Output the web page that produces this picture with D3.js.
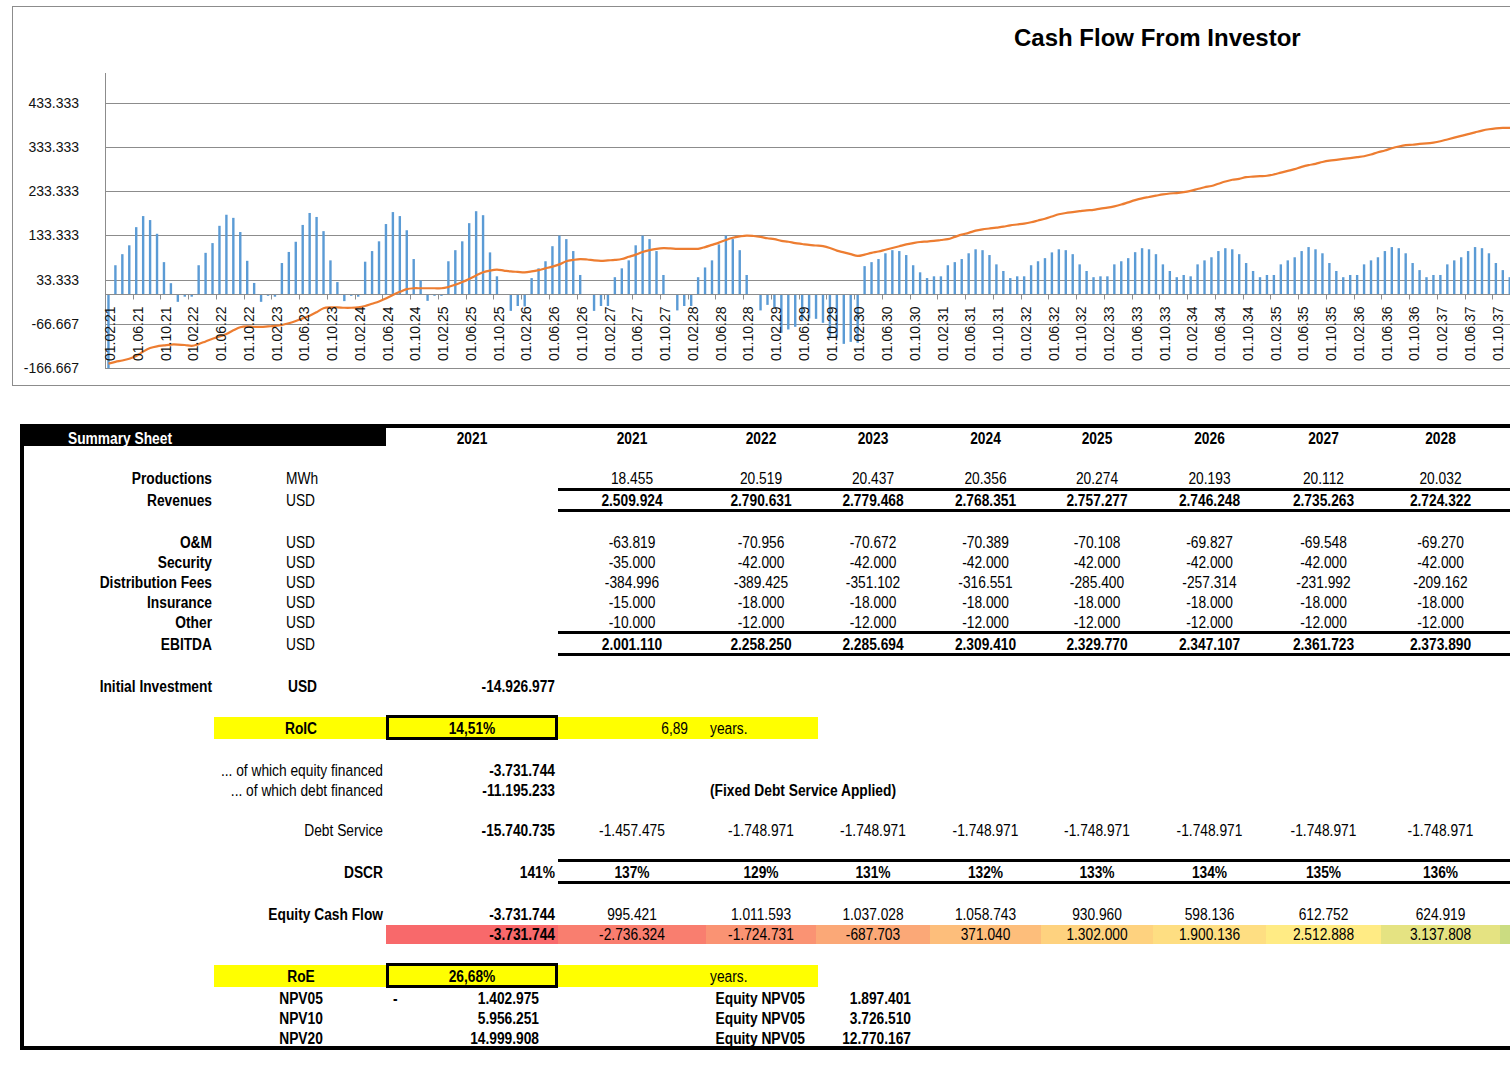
<!DOCTYPE html>
<html><head><meta charset="utf-8">
<script src="https://cdn.jsdelivr.net/npm/d3@7"></script>
<style>
html,body{margin:0;padding:0;background:#fff;}
svg{display:block;}
</style></head>
<body>
<svg id="chart" width="1510" height="1074"></svg>
<script>
// ---------------- DATA ----------------
const chartTitle = "Cash Flow From Investor";
const startMonth = new Date(2021, 1, 1); // 01.02.21
// monthly equity cash flow (thousand USD), Feb 2021 onward
const monthlyCashFlow = [
  -3731.744,
  66, 91, 111, 152, 177, 168, 137, 73, 25.5, -16.6, -5, -5,
  66, 94, 116, 155, 180, 173, 141, 76, 26, -16.6, -3, -5,
  71, 96, 119, 157, 184, 175, 143, 77, 28, -15, -3, -5,
  74, 98, 120, 159, 186, 177, 145, 80, 31.5, -14.4, -3, -3,
  75, 100, 120, 161, 188, 179, 95, 41, 0, -37, -26, -27,
  37, 59, 75, 109, 133, 125, 98, 44, 0, -37, -26, -26,
  39, 59, 77, 111, 133, 125, 98, 44, 0, -36, -26, -26,
  39, 61, 77, 113, 133, 125, 100, 44, 0, -36, -23.5, -30,
  -86.6, -79, -73, -60, -54, -55, -64, -95.6, -97, -111.5, -107, -109,
  64, 73, 80, 93, 100, 98, 89, 66, 50, 37, 41, 41,
  66, 73, 80, 93, 102, 100, 89, 68, 53, 37, 41, 41,
  66, 75, 82, 95, 102, 100, 91, 68, 53, 39, 41, 41,
  68, 75, 82, 95.5, 104.5, 102, 91, 68, 53, 39, 44, 41,
  68, 77, 84, 98, 104.5, 102, 91, 71, 53, 39, 44, 44,
  68, 77, 84, 98, 107, 102, 93, 71, 53, 39, 44, 44,
  68, 77, 84, 98, 107, 104.5, 93, 71, 55, 39, 44, 44,
  68, 77, 84, 98, 107, 104.5, 93, 71, 55, 39, 44
];
// smoothed line series (thousand USD)
const lineSeries = [
  -156, -152, -149, -145, -139, -129, -121, -117, -115, -113, -113, -114, -116,
  -112, -106, -100, -95, -89, -81, -74, -72, -73, -73, -72, -71,
  -69, -65, -60, -54, -48, -40, -31, -29, -29, -30, -30, -29,
  -26, -21, -16, -9, -1, 6, 12, 14, 14, 14, 14, 14,
  17, 22, 28, 35, 43, 50, 54, 56, 54, 52, 51, 50,
  52, 55, 59, 63, 68, 75, 78, 80, 79, 77, 76, 77,
  78, 80, 85, 90, 96, 100, 103, 104.5, 104, 103, 103, 103,
  103, 107, 112, 117, 123, 128, 131, 133, 132, 130, 127, 125,
  121, 119, 116, 114, 112, 110.5, 109, 105, 99, 95, 91, 87,
  90, 94, 97, 101, 105, 109, 113, 116, 118.5, 119.5, 121, 123,
  125, 130, 135, 139, 144, 147, 149, 151, 153, 156, 158, 160,
  163, 167, 171, 176, 181, 184, 186, 188, 190, 191, 194, 196,
  199, 203, 208, 213, 217, 220, 223, 226, 228, 229, 231, 234,
  238, 242, 245, 250, 255, 259, 261, 265, 266, 267, 268, 271,
  275, 279, 283, 288, 292, 295, 299, 302, 304, 306, 308, 310,
  312, 316, 321, 325, 330, 334, 337, 338, 340, 341, 343, 346,
  350, 354, 358, 362, 366, 370, 373, 375, 376, 376, 377
];
const yTickValues = [-166.667, -66.667, 33.333, 133.333, 233.333, 333.333, 433.333];
const yMax = 500;
const labelEvery = 4;

// table data
const years = ["2021", "2022", "2023", "2024", "2025", "2026", "2027", "2028"];
const productions = [18455, 20519, 20437, 20356, 20274, 20193, 20112, 20032];
const revenues = [2509924, 2790631, 2779468, 2768351, 2757277, 2746248, 2735263, 2724322];
const om = [-63819, -70956, -70672, -70389, -70108, -69827, -69548, -69270];
const security = [-35000, -42000, -42000, -42000, -42000, -42000, -42000, -42000];
const distributionFees = [-384996, -389425, -351102, -316551, -285400, -257314, -231992, -209162];
const insurance = [-15000, -18000, -18000, -18000, -18000, -18000, -18000, -18000];
const other = [-10000, -12000, -12000, -12000, -12000, -12000, -12000, -12000];
const ebitda = [2001110, 2258250, 2285694, 2309410, 2329770, 2347107, 2361723, 2373890];
const debtService = [-1457475, -1748971, -1748971, -1748971, -1748971, -1748971, -1748971, -1748971];
const dscr = [137, 129, 131, 132, 133, 134, 135, 136];
const equityCashFlow = [995421, 1011593, 1037028, 1058743, 930960, 598136, 612752, 624919];
const equityCumulative = [-2736324, -1724731, -687703, 371040, 1302000, 1900136, 2512888, 3137808];
const nextYearCumulative = 3760000; // column beyond the visible edge (only its colour shows)
const initialInvestment = -14926977;
const equityFinanced = -3731744;
const debtFinanced = -11195233;
const debtServiceTotal = -15740735;
const dscrTotal = 141;
const equityInitial = -3731744;
const roic = "14,51%", roicYears = "6,89";
const roe = "26,68%";
const npvLabels = ["NPV05", "NPV10", "NPV20"];
const npvValues = [1402975, 5956251, 14999908];
const equityNpvLabels = ["Equity NPV05", "Equity NPV05", "Equity NPV05"];
const equityNpvValues = [1897401, 3726510, 12770167];

// ---------------- RENDER ----------------
const loc = d3.formatLocale({decimal: ",", thousands: ".", grouping: [3], currency: ["", ""], minus: "-"});
const fmt = loc.format(",.0f");
const svg = d3.select("#chart");
const FONT = "'Liberation Sans', Arial, sans-serif";

// chart frame
svg.append("rect").attr("x", 12.5).attr("y", 6.5).attr("width", 2300).attr("height", 379)
  .attr("fill", "#fff").attr("stroke", "#8c8c8c").attr("stroke-width", 1);

const plotLeft = 105, plotTop = 73, plotBottom = 368.3, step = 6.937;
const N = monthlyCashFlow.length;
const idx = d3.range(N);
const months = idx.map(i => d3.timeMonth.offset(startMonth, i));
const fmtDate = d3.timeFormat("%d.%m.%y");

const x = d3.scaleBand().domain(idx).range([plotLeft, plotLeft + N * step]).padding(0);
const y = d3.scaleLinear().domain([yTickValues[0], yMax]).range([plotBottom, plotTop]);

svg.append("defs").append("clipPath").attr("id", "plotclip")
  .append("rect").attr("x", plotLeft).attr("y", plotTop).attr("width", 3000).attr("height", plotBottom - plotTop);

// gridlines
svg.append("g").selectAll("line").data(yTickValues).join("line")
  .attr("x1", plotLeft).attr("x2", 1510)
  .attr("y1", d => Math.round(y(d)) + 0.5).attr("y2", d => Math.round(y(d)) + 0.5)
  .attr("stroke", "#8c8c8c").attr("stroke-width", 1);

// y axis line
svg.append("line").attr("x1", plotLeft + 0.5).attr("x2", plotLeft + 0.5)
  .attr("y1", plotTop).attr("y2", plotBottom).attr("stroke", "#8c8c8c");

// y labels
svg.append("g").selectAll("text").data(yTickValues).join("text")
  .attr("x", 79).attr("y", d => y(d) + 5)
  .attr("text-anchor", "end").attr("font-family", FONT).attr("font-size", "14px").attr("fill", "#111")
  .text(d => fmt(d * 1000));

// bars
const barW = 2.4;
svg.append("g").attr("clip-path", "url(#plotclip)").selectAll("rect").data(monthlyCashFlow).join("rect")
  .attr("x", (d, i) => x(i) + (step - barW) / 2)
  .attr("width", barW)
  .attr("y", d => y(Math.max(0, d)))
  .attr("height", d => Math.abs(y(d) - y(0)))
  .attr("fill", "#5b9bd5");

// category axis at zero
const y0 = Math.round(y(0)) + 0.5;
svg.append("line").attr("x1", plotLeft).attr("x2", 1510).attr("y1", y0).attr("y2", y0).attr("stroke", "#8c8c8c");
const tickIdx = idx.filter(i => i % labelEvery === 0);
svg.append("g").selectAll("line").data(tickIdx).join("line")
  .attr("x1", i => Math.round(x(i)) + 0.5).attr("x2", i => Math.round(x(i)) + 0.5)
  .attr("y1", y0).attr("y2", y0 + 5).attr("stroke", "#8c8c8c");

// line
const line = d3.line().x((d, i) => x(i) + step / 2).y(d => y(d)).curve(d3.curveCatmullRom.alpha(0.5));
svg.append("path").datum(lineSeries).attr("d", line)
  .attr("fill", "none").attr("stroke", "#ed7d31").attr("stroke-width", 2.2).attr("clip-path", "url(#plotclip)");

// x labels
svg.append("g").selectAll("text").data(tickIdx).join("text")
  .attr("transform", i => `translate(${x(i) + step / 2},306.5) rotate(-90)`)
  .attr("dy", "6.7px").attr("text-anchor", "end")
  .attr("font-family", FONT).attr("font-size", "14px").attr("fill", "#111")
  .text(i => fmtDate(months[i]));

// title
svg.append("text").attr("x", 1014).attr("y", 46).attr("font-family", FONT)
  .attr("font-weight", "bold").attr("font-size", "24px").attr("fill", "#000").text(chartTitle);

// ---------------- TABLE ----------------
const T = svg.append("g").attr("font-family", FONT).attr("font-size", "17px");
const colB = [386, 558, 706, 816, 930, 1041, 1153, 1266, 1381, 1500, 1620];
const colMid = i => (colB[i + 1] + colB[i + 2]) / 2; // year column i
function tx(xp, yp, s, o = {}) {
  T.append("text").attr("transform", `translate(${xp},${yp}) scale(0.81,1)`)
    .attr("text-anchor", o.a || "start").attr("font-weight", o.b ? "bold" : "normal")
    .attr("fill", o.fill || "#000").text(s);
}
function box(x1, y1, x2, y2, fill) {
  T.append("rect").attr("x", x1).attr("y", y1).attr("width", x2 - x1).attr("height", y2 - y1).attr("fill", fill);
}

// yellow bands
box(214, 717, 818, 739, "#ffff00");
box(214, 965, 818, 987, "#ffff00");

// colour scale row
const colorScale = d3.scaleLinear().domain([equityInitial, 2512888, 6250000])
  .range(["#f8696b", "#ffeb84", "#63be7b"]).interpolate(d3.interpolateRgb);
box(colB[0], 925, colB[1], 944, colorScale(equityInitial));
equityCumulative.forEach((v, i) => box(colB[i + 1], 925, colB[i + 2], 944, colorScale(v)));
box(colB[9], 925, colB[10], 944, colorScale(nextYearCumulative));

// frame
box(20, 424, 386, 446, "#000");
box(386, 424, 1510, 428, "#000");
box(20, 424, 24, 1050, "#000");
box(20, 1046, 1510, 1050, "#000");
// thick rules
[488, 509, 631, 653, 859, 881].forEach(yy => box(558, yy, 1510, yy + 3, "#000"));
// bold boxes
T.append("rect").attr("x", 387.5).attr("y", 716.5).attr("width", 169).attr("height", 22)
  .attr("fill", "none").attr("stroke", "#000").attr("stroke-width", 3);
T.append("rect").attr("x", 387.5).attr("y", 964.5).attr("width", 169).attr("height", 22)
  .attr("fill", "none").attr("stroke", "#000").attr("stroke-width", 3);

// header
tx(68, 444, "Summary Sheet", {b: true, fill: "#fff"});
tx(472, 444, "2021", {a: "middle", b: true});
years.forEach((yv, i) => tx(colMid(i), 444, yv, {a: "middle", b: true}));

// label rows
const labelRows = [
  {y: 484, label: "Productions", unit: "MWh", vals: productions, b: false},
  {y: 506, label: "Revenues", unit: "USD", vals: revenues, b: true},
  {y: 548, label: "O&M", unit: "USD", vals: om, b: false},
  {y: 568, label: "Security", unit: "USD", vals: security, b: false},
  {y: 588, label: "Distribution Fees", unit: "USD", vals: distributionFees, b: false},
  {y: 608, label: "Insurance", unit: "USD", vals: insurance, b: false},
  {y: 628, label: "Other", unit: "USD", vals: other, b: false},
  {y: 650, label: "EBITDA", unit: "USD", vals: ebitda, b: true}
];
labelRows.forEach(r => {
  tx(212, r.y, r.label, {a: "end", b: true});
  tx(286, r.y, r.unit);
  r.vals.forEach((v, i) => tx(colMid(i), r.y, fmt(v), {a: "middle", b: r.b}));
});

tx(212, 692, "Initial Investment", {a: "end", b: true});
tx(288, 692, "USD", {b: true});
tx(555, 692, fmt(initialInvestment), {a: "end", b: true});

tx(301, 734, "RoIC", {a: "middle", b: true});
tx(472, 734, roic, {a: "middle", b: true});
tx(688, 734, roicYears, {a: "end"});
tx(710, 734, "years.");

tx(383, 776, "... of which equity financed", {a: "end"});
tx(555, 776, fmt(equityFinanced), {a: "end", b: true});
tx(383, 796, "... of which debt financed", {a: "end"});
tx(555, 796, fmt(debtFinanced), {a: "end", b: true});
tx(710, 796, "(Fixed Debt Service Applied)", {b: true});

tx(383, 836, "Debt Service", {a: "end"});
tx(555, 836, fmt(debtServiceTotal), {a: "end", b: true});
debtService.forEach((v, i) => tx(colMid(i), 836, fmt(v), {a: "middle"}));

tx(383, 878, "DSCR", {a: "end", b: true});
tx(555, 878, dscrTotal + "%", {a: "end", b: true});
dscr.forEach((v, i) => tx(colMid(i), 878, v + "%", {a: "middle", b: true}));

tx(383, 920, "Equity Cash Flow", {a: "end", b: true});
tx(555, 920, fmt(equityInitial), {a: "end", b: true});
equityCashFlow.forEach((v, i) => tx(colMid(i), 920, fmt(v), {a: "middle"}));
tx(555, 940, fmt(equityInitial), {a: "end", b: true});
equityCumulative.forEach((v, i) => tx(colMid(i), 940, fmt(v), {a: "middle"}));

tx(301, 982, "RoE", {a: "middle", b: true});
tx(472, 982, roe, {a: "middle", b: true});
tx(710, 982, "years.");

npvLabels.forEach((l, i) => {
  const yy = 1004 + i * 20;
  tx(301, yy, l, {a: "middle", b: true});
  tx(539, yy, fmt(npvValues[i]), {a: "end", b: true});
  tx(805, yy, equityNpvLabels[i], {a: "end", b: true});
  tx(911, yy, fmt(equityNpvValues[i]), {a: "end", b: true});
});
tx(393, 1004, "-", {b: true});
</script>
</body></html>
